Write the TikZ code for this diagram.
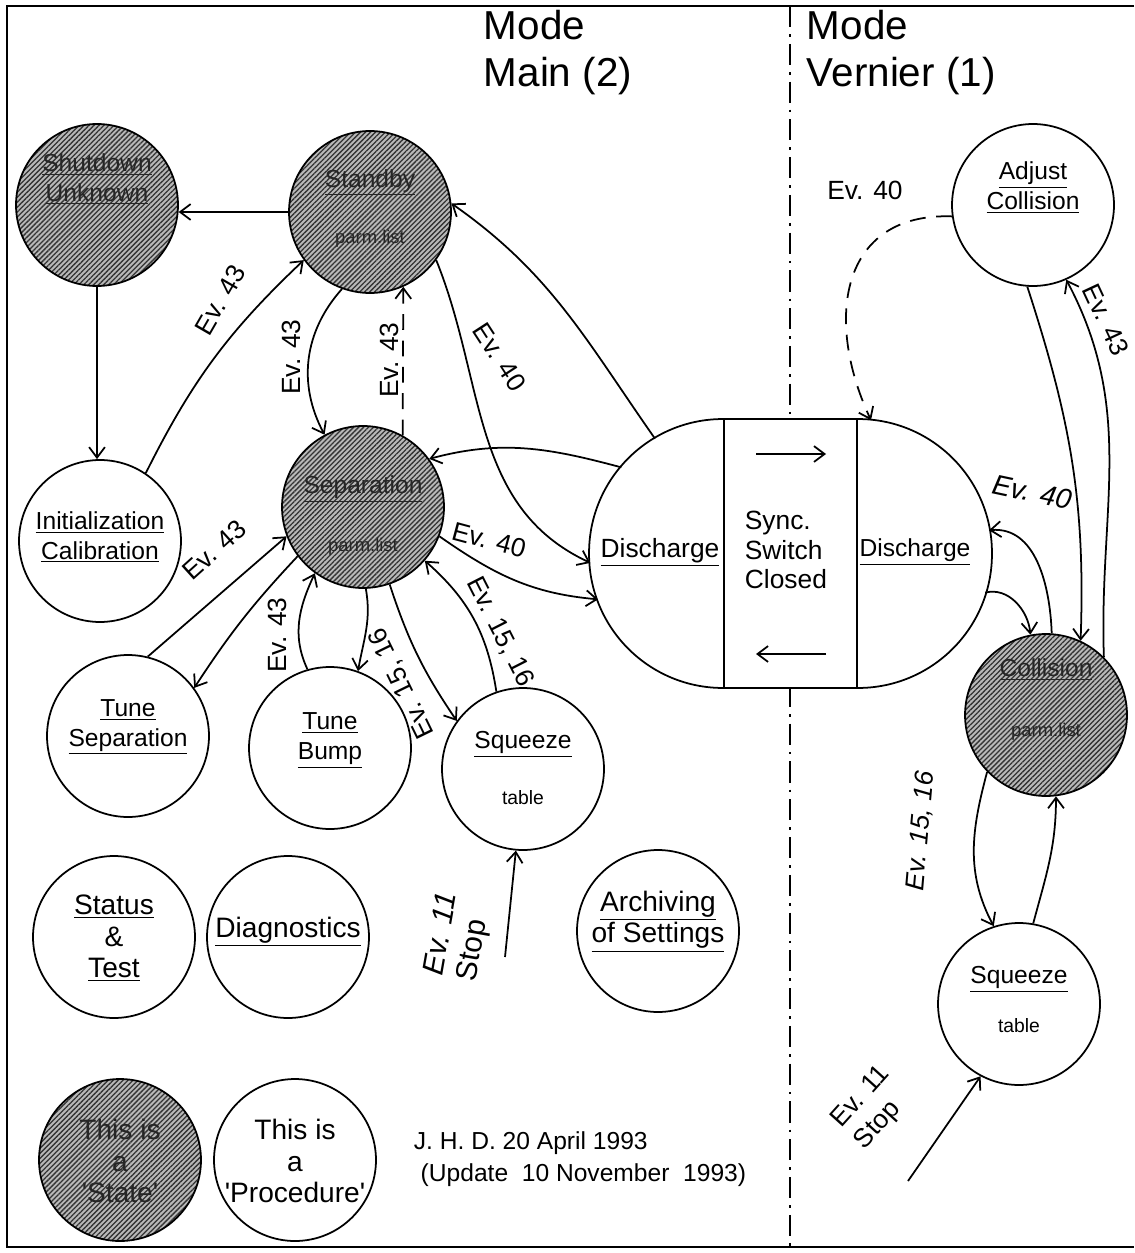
\documentclass[tikz,border=0pt]{standalone}
\usepackage{fontspec}
\setmainfont{Liberation Sans}
\usetikzlibrary{arrows.meta}
\usetikzlibrary{patterns.meta}

% text block inside a circle, raised by #1
\newcommand{\ctext}[2]{\raisebox{#1}[0pt][0pt]{\begin{tabular}{@{}c@{}}#2\end{tabular}}}
\newcommand{\plist}{{\fontsize{10.5}{12}\selectfont parm.list}}
\newcommand{\tbl}{{\fontsize{11}{12}\selectfont table}}
\newcommand{\apos}{\textquotesingle}

\tikzset{
  proc/.style={circle, draw, line width=1pt, minimum size=3.24cm, inner sep=0pt,
    font=\fontsize{14}{17}\selectfont},
  big/.style={font=\fontsize{16}{18}\selectfont},
  state/.style={proc, preaction={fill=gray!55},
    pattern={Lines[angle=45,distance=2pt,line width=0.75pt]},
    pattern color=black!80, text=black!85},
  ev/.style={inner sep=0pt, font=\fontsize{15}{18}\selectfont},
  dsh/.style={dash pattern=on 9pt off 6pt},
}

\begin{document}
\begin{tikzpicture}[x=0.02cm, y=0.02cm, line width=1pt,
    >={Straight Barb[length=6pt,width=9pt]}]

  \useasboundingbox (0,0) rectangle (1134,-1253);

  % frame and mode divider
  \draw[line width=1.2pt] (1134,-6) -- (7,-6) -- (7,-1247) -- (1134,-1247);
  \draw[line width=0.8pt, dash pattern=on 12pt off 4pt on 1.5pt off 4pt] (790,-6) -- (790,-1247);

  % titles
  \node[anchor=north west, align=left, inner sep=0pt, font=\fontsize{23}{27}\selectfont]
    (tmain) at (483,-9) {Mode\\Main (2)};
  \node[anchor=north west, align=left, inner sep=0pt, font=\fontsize{23}{27}\selectfont]
    (tvern) at (806,-9) {Mode\\Vernier (1)};

  % discharge / sync switch
  \node[draw, fill=white, rounded corners=2.68cm, minimum width=8.06cm,
    minimum height=5.38cm, inner sep=0pt] (dis) at (790.5,-553.5) {};
  \coordinate (dL) at (724,-553.5);
  \coordinate (dR) at (857,-553.5);
  \draw (dL |- dis.north) -- (dL |- dis.south);
  \draw (dR |- dis.north) -- (dR |- dis.south);
  \node[font=\fontsize{15}{17}\selectfont] (disl) at (660,-552) {\underline{Discharge}};
  \node[font=\fontsize{14}{17}\selectfont] (disr) at (915,-552) {\underline{Discharge}};
  \node[anchor=west, align=left, inner sep=0pt, font=\fontsize{15}{17}\selectfont]
    (sync) at (744,-550) {Sync.\\Switch\\Closed};
  \draw[->] (756,-454) -- (826,-454);
  \draw[->] (826,-654) -- (756,-654);

  % main mode
  \node[state] (sd) at (97,-205) {\ctext{10.5pt}{\underline{Shutdown}\\\underline{Unknown}}};
  \node[state] (stb) at (370,-212) {\ctext{-2pt}{\underline{Standby}\\[15pt]\plist}};
  \node[proc] (ini) at (100,-541) {\ctext{-2pt}{\underline{Initialization}\\\underline{Calibration}}};
  \node[state] (sep) at (363,-507) {\ctext{-9pt}{\underline{Separation}\\[16pt]\plist}};
  \node[proc] (tsep) at (128,-736) {\ctext{2.5pt}{\underline{Tune}\\\underline{Separation}}};
  \node[proc] (tbump) at (330,-748) {\ctext{1.7pt}{\underline{Tune}\\\underline{Bump}}};
  \node[proc] (sqz) at (523,-769) {\ctext{-4.5pt}{\underline{Squeeze}\\[15pt]\tbl}};
  \node[proc, big] (stat) at (114,-937) {\ctext{-6pt}{\underline{Status}\\\&\\\underline{Test}}};
  \node[proc, big] (diag) at (288,-937) {\ctext{-1pt}{\underline{Diagnostics}}};
  \node[proc, big] (arch) at (658,-931) {\ctext{1.5pt}{\underline{Archiving}\\\underline{of Settings}}};
  \coordinate (stopm) at (505,-957);

  % vernier mode
  \node[proc] (adj) at (1033,-205) {\ctext{5.6pt}{\underline{Adjust}\\\underline{Collision}}};
  \node[state] (coll) at (1046,-715) {\ctext{4.5pt}{\underline{Collision}\\[17pt]\plist}};
  \node[proc] (sqzv) at (1019,-1004) {\ctext{-2.5pt}{\underline{Squeeze}\\[11pt]\tbl}};
  \coordinate (stopv) at (908,-1181);

  % legend
  \node[state, big] (keyst) at (120,-1160) {\ctext{-7pt}{This is\\a\\\apos State\apos}};
  \node[proc, big] (keypr) at (295,-1160) {\ctext{-7pt}{This is\\a\\\apos Procedure\apos}};
  \node[anchor=west, align=left, inner sep=0pt, font=\fontsize{14}{18}\selectfont]
    (date) at (413,-1159) {J. H. D. 20 April 1993\\\ (Update~~10 November~~1993)};

  % transitions, main mode
  \draw[->] (stb.west) -- (sd.east |- stb.west);
  \draw[->] (sd.south) -- (sd.south |- ini.north);
  \draw[->] (ini.56) to[bend left=10] (stb.216);
  \draw[->] (stb.250) to[bend right=35] (sep.118);
  \draw[->, dsh] (sep.61) -- (stb.294);
  \draw[->] (stb.324) to[out=-68,in=155] ([shift={(184:134)}]dL);
  \draw[->] ([shift={(121:134)}]dL) to[out=125,in=-35] (stb.6);
  \draw[->] ([shift={(140:134)}]dL) to[out=165,in=15] (sep.36);
  \draw[->] (sep.-21) to[out=-35,in=175] ([shift={(200:134)}]dL);
  \draw[->] (tsep.76) -- (sep.201);
  \draw[->] (sep.217) to[bend right=5] (tsep.36);
  \draw[->] (tbump.106) to[out=115,in=245] (sep.234);
  \draw[->] (sep.272) to[out=-80,in=80] (tbump.70);
  \draw[->] (sep.289) to[bend right=8] (sqz.144);
  \draw[->] (sqz.109) to[bend right=20] (sep.319);
  \draw[->] (stopm) -- (sqz.265);

  % transitions, vernier mode
  \draw[->, dsh] (adj.188) to[out=178,in=115,looseness=1.3] ([shift={(84:134)}]dR);
  \draw[->] (adj.266) to[out=-72,in=88] (coll.65);
  \draw[->] (coll.45) to[out=92,in=-62] (adj.294);
  \draw[->] (coll.86) to[out=92,in=5] ([shift={(10:134)}]dR);
  \draw[->] ([shift={(-17:134)}]dR) to[out=15,in=95] (coll.101);
  \draw[->] (coll.224) to[out=255,in=118] (sqzv.108);
  \draw[->] (sqzv.80) to[out=75,in=-90] (coll.277);
  \draw[->] (stopv) -- (sqzv.242);

  % event labels
  \node[ev, rotate=60] (ev1) at (220,-300) {Ev. 43};
  \node[ev, rotate=90] (ev2) at (291,-357) {Ev. 43};
  \node[ev, rotate=90] (ev3) at (389,-360) {Ev. 43};
  \node[ev, rotate=-57] (ev4) at (500,-357) {Ev. 40};
  \node[ev, rotate=-15] (ev5) at (489,-540) {Ev. 40};
  \node[ev, rotate=42] (ev6) at (214,-550) {Ev. 43};
  \node[ev, rotate=90] (ev7) at (277,-635) {Ev. 43};
  \node[ev, rotate=116] (ev8) at (402,-683) {Ev. 15, 16};
  \node[ev, rotate=-63] (ev9) at (500,-632) {Ev. 15, 16};
  \node[ev, rotate=80, align=left, font=\fontsize{17}{19}\selectfont]
    (ev10) at (459,-937) {\itshape Ev. 11\\Stop};
  \node[ev] (ev11) at (865,-190) {Ev. 40};
  \node[ev, rotate=-65] (ev12) at (1106,-320) {Ev. 43};
  \node[ev, rotate=-12, font=\fontsize{16}{18}\selectfont\itshape] (ev13) at (1032,-492) {Ev. 40};
  \node[ev, rotate=85, font=\fontsize{15}{18}\selectfont\itshape] (ev14) at (921,-831) {Ev. 15, 16};
  \node[ev, rotate=48, align=left] (ev15) at (873,-1108) {Ev. 11\\Stop};

\end{tikzpicture}
\end{document}
